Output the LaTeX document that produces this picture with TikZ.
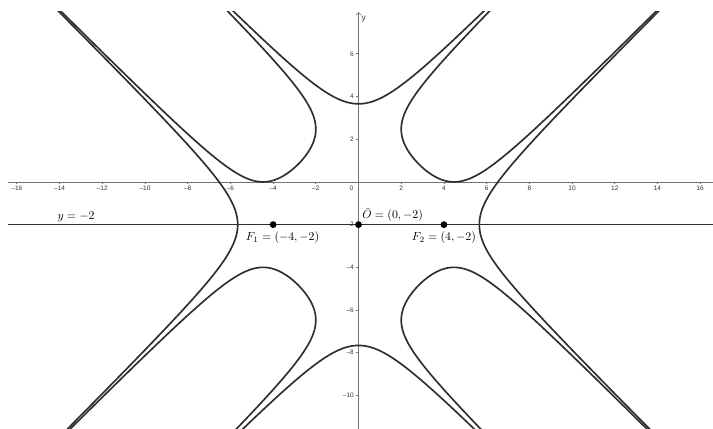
\documentclass[tikz,border=0pt]{standalone}
\usepackage{amsmath, amssymb}
\usepackage{fontspec}
\newfontfamily\ggbfont{Liberation Sans}
\usepackage{tikz}

\begin{document}
\begin{tikzpicture}[x=0.636cm, y=0.636cm,
  curve/.style={line width=1.4pt, black!82, line join=round},
  axis/.style={line width=0.7pt, black!55},
  ticklab/.style={font=\ggbfont\fontsize{5.5}{6}\selectfont, black!80, inner sep=0pt},
  dot/.style={circle, fill=black, inner sep=0pt, minimum size=5.8pt},
  lab/.style={inner sep=0pt, anchor=base}]
\useasboundingbox (-16.79,-11.57) rectangle (16.60,8.52);
\draw[axis] (-16.42,0) -- (16.7,0);
\draw[axis,->] (0,-11.6) -- (0,7.95) node[ticklab, anchor=west, font=\ggbfont\fontsize{7}{8}\selectfont] (ylab) at (0.12,7.62) {y};
\foreach \v in {2,4,...,16} {
  \draw[axis] (\v,0) -- (\v,-0.1);
  \draw[axis] (-\v,0) -- (-\v,-0.1);
  \node[ticklab, anchor=north] (xp\v) at (\v,-0.2) {\v};
  \node[ticklab, anchor=north] (xm\v) at (-\v,-0.2) {–\v};
}
\foreach \v in {2,4,6} {
  \draw[axis] (0,\v) -- (-0.1,\v);
  \node[ticklab, anchor=east] (yp\v) at (-0.21,\v) {\v};
}
\foreach \v in {2,4,...,10} {
  \draw[axis] (0,-\v) -- (-0.1,-\v);
  \node[ticklab, anchor=east] (ym\v) at (-0.21,-\v) {–\v};
}
\node[ticklab, anchor=north east] (orig) at (-0.24,-0.2) {0};
\begin{scope}
\clip (-16.42,-11.6) rectangle (16.7,7.96);
\foreach \a/\b in {1/1,-1/-1,1/-1,-1/1}
  \draw[curve] plot[domain=-5:5, samples=201, variable=\s]
    ({((\a)*4*sqrt(1+exp(\s))+(\b)*4*sqrt(1+exp(-\s)))/2},
     {((\a)*4*sqrt(1+exp(\s))-(\b)*4*sqrt(1+exp(-\s)))/2-2});
\foreach \a in {1,-1} {
  \draw[curve] plot[domain=-86:86, samples=173, variable=\t]
    ({(4*sin(\t)+(\a)*4*sqrt(1+1/(cos(\t)*cos(\t))))/2},
     {(4*sin(\t)-(\a)*4*sqrt(1+1/(cos(\t)*cos(\t))))/2-2});
  \draw[curve] plot[domain=-86:86, samples=173, variable=\t]
    ({((\a)*4*sqrt(1+1/(cos(\t)*cos(\t)))+4*sin(\t))/2},
     {((\a)*4*sqrt(1+1/(cos(\t)*cos(\t)))-4*sin(\t))/2-2});
}
\draw[curve] (-16.42,-2) -- (16.7,-2);
\end{scope}
\node[dot] (F1) at (-4,-2) {};
\node[dot] (F2) at (4,-2) {};
\node[dot] (Ob) at (0,-2) {};
\node[lab] (F1lab) at ([shift={(0.44,-0.76)}]F1) {$F_1 = (-4, -2)$};
\node[lab] (F2lab) at ([shift={(0,-0.76)}]F2) {$F_2 = (4, -2)$};
\node[lab, anchor=base west] (Oblab) at ([shift={(0.17,0.27)}]Ob) {$\bar{O} = (0, -2)$};
\node[lab] (linelab) at (-13.23,-1.77) {$y = -2$};
\end{tikzpicture}
\end{document}
